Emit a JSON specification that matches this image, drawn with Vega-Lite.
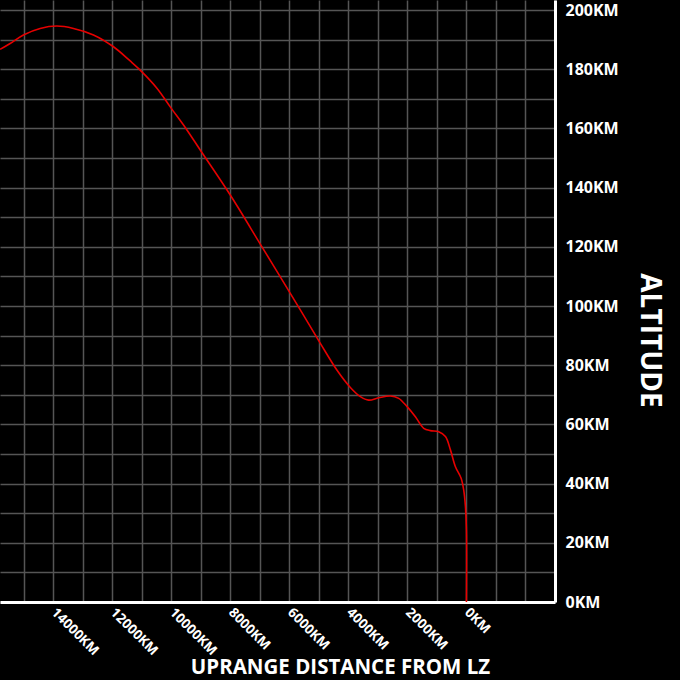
{
  "$schema": "https://vega.github.io/schema/vega-lite/v6.json",
  "autosize": {"type": "none"},
  "padding": {"left": 0, "top": 0, "right": 125, "bottom": 78},
  "width": 555,
  "height": 602,
  "background": "#000000",
  "config": {
    "view": {"stroke": null},
    "font": "Open Sans"
  },
  "data": {
    "values": [
      {"i": 1, "dist": 15797, "alt": 186.7},
      {"i": 2, "dist": 15458, "alt": 188.7},
      {"i": 3, "dist": 15007, "alt": 191.6},
      {"i": 4, "dist": 14441, "alt": 193.8},
      {"i": 5, "dist": 13875, "alt": 194.6},
      {"i": 6, "dist": 13312, "alt": 193.8},
      {"i": 7, "dist": 12634, "alt": 191.6},
      {"i": 8, "dist": 11956, "alt": 187.6},
      {"i": 9, "dist": 11390, "alt": 182.8},
      {"i": 10, "dist": 11051, "alt": 179.7},
      {"i": 11, "dist": 10485, "alt": 173.6},
      {"i": 12, "dist": 10034, "alt": 167.3},
      {"i": 13, "dist": 9468, "alt": 159.5},
      {"i": 14, "dist": 9017, "alt": 152.7},
      {"i": 15, "dist": 8000, "alt": 137.5},
      {"i": 16, "dist": 6926, "alt": 120.0},
      {"i": 17, "dist": 5966, "alt": 104.3},
      {"i": 18, "dist": 4949, "alt": 87.4},
      {"i": 19, "dist": 4383, "alt": 78.3},
      {"i": 20, "dist": 3932, "alt": 72.5},
      {"i": 21, "dist": 3593, "alt": 69.4},
      {"i": 22, "dist": 3312, "alt": 68.2},
      {"i": 23, "dist": 2973, "alt": 69.0},
      {"i": 24, "dist": 2576, "alt": 69.6},
      {"i": 25, "dist": 2295, "alt": 68.8},
      {"i": 26, "dist": 2010, "alt": 66.0},
      {"i": 27, "dist": 1729, "alt": 62.6},
      {"i": 28, "dist": 1447, "alt": 58.7},
      {"i": 29, "dist": 1220, "alt": 57.9},
      {"i": 30, "dist": 939, "alt": 57.5},
      {"i": 31, "dist": 712, "alt": 55.9},
      {"i": 32, "dist": 542, "alt": 51.4},
      {"i": 33, "dist": 373, "alt": 45.7},
      {"i": 34, "dist": 180, "alt": 41.8},
      {"i": 35, "dist": 92, "alt": 37.8},
      {"i": 36, "dist": 34, "alt": 32.2},
      {"i": 37, "dist": 0, "alt": 24.3},
      {"i": 38, "dist": 0, "alt": 0}
    ]
  },
  "mark": {"type": "line", "color": "#e60000", "strokeWidth": 1.6, "clip": true, "interpolate": "catmull-rom"},
  "encoding": {
    "order": {"field": "i", "type": "quantitative"},
    "x": {
      "field": "dist",
      "type": "quantitative",
      "scale": {"domain": [-3000, 15800], "reverse": true, "nice": false, "zero": false},
      "axis": {
        "orient": "bottom",
        "values": [-3000, -2000, -1000, 0, 1000, 2000, 3000, 4000, 5000, 6000, 7000, 8000, 9000, 10000, 11000, 12000, 13000, 14000, 15000],
        "labelExpr": "datum.value >= 0 && datum.value % 2000 == 0 ? datum.value + 'KM' : ''",
        "grid": true,
        "gridColor": "#555555",
        "gridWidth": 1.5,
        "domainColor": "#ffffff",
        "domainWidth": 3,
        "ticks": false,
        "labelAngle": 45,
        "labelAlign": "left",
        "labelBaseline": "middle",
        "labelPadding": 8,
        "labelFont": "Open Sans",
        "labelFontWeight": "bold",
        "labelFontSize": 13.5,
        "labelColor": "#ffffff",
        "labelOverlap": false,
        "labelFlush": false,
        "title": "UPRANGE DISTANCE FROM LZ",
        "titleFont": "Open Sans",
        "titleFontWeight": "bold",
        "titleFontSize": 20.5,
        "titleColor": "#ffffff",
        "titlePadding": 0,
        "titleX": 340
      }
    },
    "y": {
      "field": "alt",
      "type": "quantitative",
      "scale": {"domain": [0, 203.4], "nice": false},
      "axis": {
        "orient": "right",
        "values": [0, 10, 20, 30, 40, 50, 60, 70, 80, 90, 100, 110, 120, 130, 140, 150, 160, 170, 180, 190, 200],
        "labelExpr": "datum.value % 20 == 0 ? datum.value + 'KM' : ''",
        "grid": true,
        "gridColor": "#555555",
        "gridWidth": 1.5,
        "domainColor": "#ffffff",
        "domainWidth": 3,
        "ticks": false,
        "labelPadding": 10,
        "labelFont": "Open Sans",
        "labelFontWeight": "bold",
        "labelFontSize": 16,
        "labelColor": "#ffffff",
        "labelOverlap": false,
        "labelFlush": false,
        "title": "ALTITUDE",
        "titleFont": "Open Sans",
        "titleFontWeight": "bold",
        "titleFontSize": 28,
        "titleColor": "#ffffff",
        "titlePadding": 16,
        "titleY": 340
      }
    }
  }
}
